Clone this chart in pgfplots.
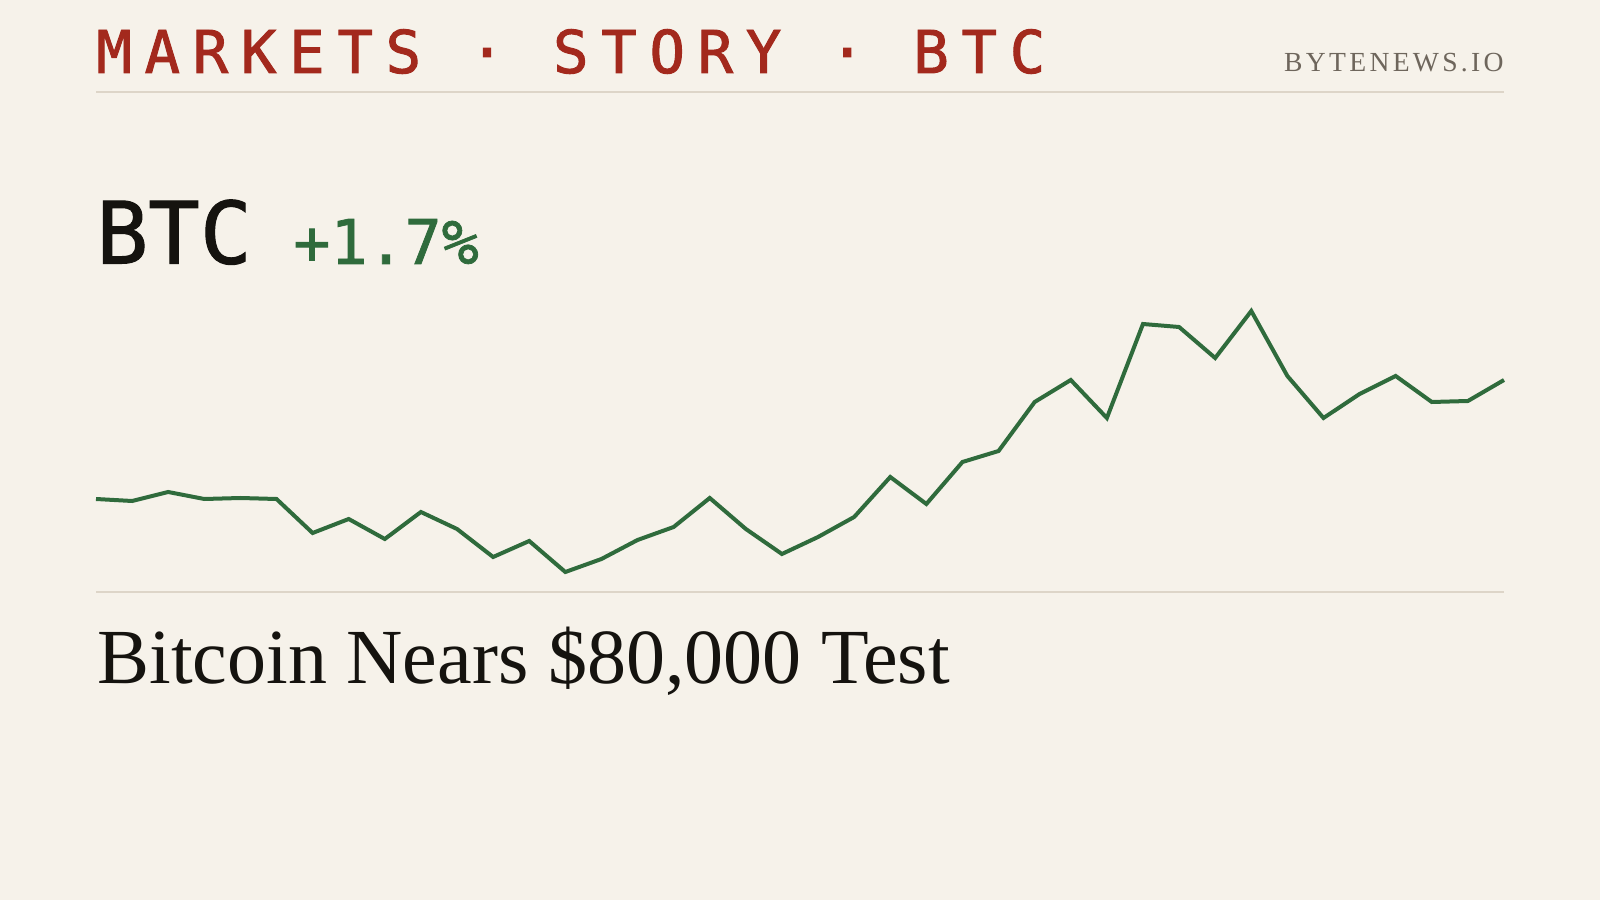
\documentclass[border=0pt]{standalone}
\usepackage{pgfplots}
\pgfplotsset{compat=1.18}
\usepackage{fontspec}
\setmainfont{Liberation Serif}
\newfontfamily\monofont[FakeBold=1.2]{DejaVu Sans Mono}
\newfontfamily\headfont[LetterSpace=21.5,FakeBold=1.6]{DejaVu Sans Mono}
\newfontfamily\brandfont[LetterSpace=12]{Liberation Serif}

\definecolor{paper}{HTML}{F6F2EA}
\definecolor{rulecol}{HTML}{DDD5C8}
\definecolor{kicker}{HTML}{A3291D}
\definecolor{upgreen}{HTML}{2F6B3C}
\definecolor{ink}{HTML}{15130F}
\definecolor{brand}{HTML}{6E665C}

% BTC price path, one point per step
\pgfplotstableread{
i price
0 78010
1 77990
2 78080
3 78010
4 78020
5 78010
6 77670
7 77810
8 77610
9 77880
10 77710
11 77430
12 77590
13 77280
14 77410
15 77600
16 77730
17 78020
18 77710
19 77460
20 77630
21 77830
22 78230
23 77960
24 78380
25 78490
26 78980
27 79200
28 78820
29 79760
30 79730
31 79420
32 79890
33 79240
34 78820
35 79060
36 79240
37 78980
38 78990
39 79200
}\btcdata

\begin{document}
\begin{tikzpicture}
  \fill[paper] (0,0) rectangle (800pt,450pt);
  \useasboundingbox (0,0) rectangle (800pt,450pt);

  % header
  \node[anchor=base west, inner sep=0pt, text=kicker,
        font=\headfont\fontsize{29.5pt}{30pt}\selectfont] at (48pt,413.5pt)
        {MARKETS · STORY · BTC};
  \node[anchor=base east, inner sep=0pt, text=brand,
        font=\brandfont\fontsize{13.8pt}{14pt}\selectfont] at (752pt,414pt)
        {BYTENEWS.IO};
  \draw[rulecol, line width=0.75pt] (48pt,404pt) -- (752pt,404pt);

  % ticker
  \node[anchor=base west, inner sep=0pt, text=ink,
        font=\monofont\fontsize{43pt}{44pt}\selectfont] at (48pt,318.25pt) {BTC};
  \node[anchor=base west, inner sep=0pt, text=upgreen,
        font=\monofont\fontsize{30.8pt}{31pt}\selectfont] at (146.5pt,318pt) {+1.7\%};

  \begin{axis}[
      at={(48pt,154pt)}, anchor=south west,
      width=704pt, height=150pt, scale only axis,
      hide axis, clip=false,
      xmin=0, xmax=39,
      ymin=77080, ymax=80080,
    ]
    \addplot[upgreen, line width=2pt, mark=none] table[x=i, y=price] {\btcdata};
  \end{axis}

  \draw[rulecol, line width=0.75pt] (48pt,154pt) -- (752pt,154pt);

  % headline
  \node[anchor=base west, inner sep=0pt, text=ink,
        font=\fontsize{39pt}{40pt}\selectfont] at (48.5pt,108.5pt)
        {Bitcoin Nears \$80,000 Test};
\end{tikzpicture}
\end{document}
